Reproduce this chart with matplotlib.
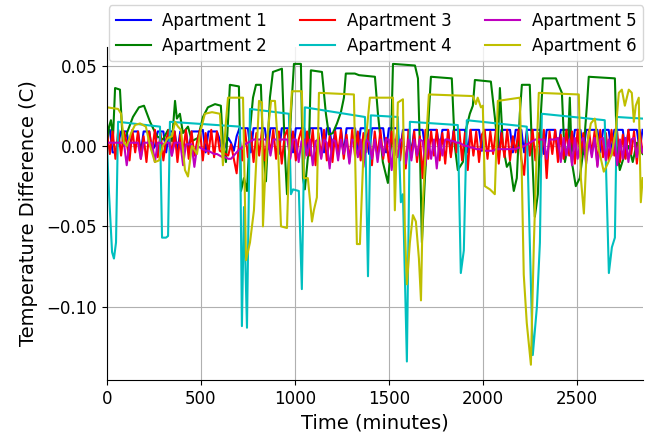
import numpy as np
import matplotlib
matplotlib.use("Agg")
import matplotlib.pyplot as plt

# fast series sampled every 15 minutes
t_fast = np.arange(0, 2851, 15)

apt1 = [
    .009, .010, -.004, -.004, .002, .009, .009, .009, -.003, .009,
    .009, .009, -.004, .009, .009, .009, -.003, .000, .009, .009,
    .009, -.004, .009, .009, .009, -.004, .009, .009, .009, -.003,
    .009, .009, .009, .009, .010, -.004, .009, .009, .009, .009,
    .004, -.004, .000, .005, .002, -.003, .006, .011, .011, .011,
    .011, -.004, .011, .011, .011, .011, .011, -.002, .011, .011,
    .011, -.005, .011, .011, .011, .011, -.004, .011, .011, .011,
    .011, -.003, .011, .011, .011, .011, .011, -.004, .011, .011,
    -.004, .011, .011, .011, -.005, .011, .011, .011, .011, -.003,
    .011, .011, .011, -.005, .011, .011, .011, .011, .011, -.004,
    .011, .011, .011, .011, -.004, .010, .010, .010, -.005, .010,
    .010, .010, .010, -.004, .010, .010, .010, .010, -.003, .010,
    .010, .010, -.005, .010, .010, .010, .010, .010, -.004, .010,
    .010, .010, .010, -.003, .010, .010, .010, .010, .010, -.005,
    .010, .010, .010, .010, -.004, .010, .010, .010, -.004, .010,
    .010, .010, .010, .010, .010, -.005, .010, .010, .010, .010,
    -.004, .010, .010, .010, .010, -.003, .010, .010, .010, -.005,
    .010, .010, .010, .010, .010, -.004, .010, .010, .010, -.004,
    .010, .010, .010, .010, -.005, .010, .010, .010, .010, -.003,
    .010,
]

apt3 = [
    .008, -.005, .009, -.008, .010, -.006, .009, .002, -.009, .010,
    -.004, .009, -.008, .006, -.010, .009, -.003, .010, -.007, .008,
    -.009, .004, .010, -.006, .009, -.010, .007, -.004, .010, -.008,
    .009, -.006, .003, .010, -.009, .008, -.005, .010, -.007, .009,
    -.003, -.004, -.005, -.006, .001, -.008, -.017, .006, -.009, .010,
    -.007, .009, -.010, .008, -.006, .010, -.009, .007, -.004, .010,
    -.008, .009, -.011, .006, .010, -.007, .009, -.009, .004, .010,
    -.008, .009, -.006, .010, -.012, .008, -.007, .010, -.009, .006,
    -.010, .009, -.005, .010, -.008, .007, -.010, .010, -.006, .009,
    -.009, .008, -.004, .010, -.012, .009, -.007, .010, -.008, .005,
    -.010, .009, -.006, .010, -.009, .008, -.014, .010, -.007, .009,
    -.010, .006, -.020, .010, -.008, .009, -.006, .010, -.009, .008,
    -.011, .010, -.007, .009, -.004, .010, -.009, .008, -.015, .010,
    -.006, .009, -.010, .007, .010, -.008, .009, -.005, .010, -.011,
    .008, -.007, .010, -.009, .006, -.004, .010, -.008, -.018, .009,
    -.006, .010, -.009, .008, -.007, .010, -.020, .009, -.005, .010,
    -.010, .007, -.008, .010, -.006, .009, -.011, .010, -.007, .008,
    -.009, .010, -.005, .009, -.012, .010, -.007, .008, -.009, .010,
    -.006, .009, -.010, .007, -.008, .010, -.005, .009, -.011, .010,
    -.004,
]

apt5 = [
    .002, .002, .002, .002, .002, .002, .002, -.012, .002, .002,
    .002, .002, -.008, .002, .002, .002, .002, -.010, .002, .002,
    .001, .002, .002, -.006, .002, .002, .002, -.012, .001, .001,
    .001, -.013, .000, -.001, -.002, -.003, -.003, -.004, -.005, -.005,
    -.006, -.007, -.007, -.008, -.008, -.006, -.004, -.002, -.001, .001,
    .002, .003, .004, .004, .004, .004, .004, .004, -.006, .004,
    .004, .004, .004, .004, .004, -.008, .004, .004, -.010, .003,
    .004, -.006, .004, -.012, .003, .004, -.008, .004, .002, -.014,
    .004, .003, -.009, .004, -.005, .004, -.011, .004, .003, -.007,
    .004, -.013, .004, .002, -.008, .004, -.010, .004, -.006, .004,
    .004, -.015, .004, -.007, .004, .003, -.011, .004, -.009, .004,
    -.006, .004, .003, -.012, .004, -.008, .004, -.014, .004, -.006,
    .004, .004, .003, .003, .002, .002, .001, .000, .000, -.001,
    -.001, -.002, -.002, -.002, -.003, -.003, -.003, -.003, -.002, -.002,
    -.002, -.002, -.002, -.002, -.002, -.002, -.001, -.001, .000, .001,
    .002, .003, .004, .004, .004, .004, -.008, .004, .004, .004,
    .005, -.010, .005, -.006, .004, -.012, .005, -.008, .003, .005,
    -.011, .004, -.007, .005, -.013, .004, .005, -.009, .004, -.006,
    .005, -.012, .004, -.008, .005, -.010, .004, .005, -.007, .004,
    -.004,
]

# slow series with gaps between readings
t_apt2 = [0, 11, 21, 32, 43, 69, 85, 106, 138, 170, 197, 229, 266, 298, 325,
          346, 362, 372, 388, 404, 431, 452, 484, 511, 537, 575, 606, 617,
          633, 654, 702, 713, 729, 745, 761, 777, 793, 819, 830, 846, 867,
          883, 931, 947, 958, 979, 995, 1032, 1043, 1053, 1075, 1085, 1144,
          1165, 1181, 1202, 1224, 1245, 1261, 1271, 1319, 1341, 1426, 1442,
          1468, 1495, 1511, 1522, 1639, 1655, 1665, 1676, 1692, 1708, 1724,
          1835, 1851, 1867, 1894, 1910, 1931, 1947, 1958, 2043, 2064, 2080,
          2091, 2107, 2128, 2144, 2165, 2181, 2197, 2208, 2250, 2261, 2277,
          2293, 2309, 2320, 2389, 2410, 2421, 2437, 2453, 2463, 2474, 2495,
          2516, 2538, 2554, 2564, 2703, 2713, 2729, 2756, 2777, 2798, 2820,
          2851]
apt2 = [.000, .012, .016, .005, .036, .035, .000, .008, .018, .024, .025,
        .015, .006, .004, .010, .003, .028, .017, .020, .008, .012, .003,
        .005, .018, .024, .026, .025, .002, -.010, .038, .037, -.028, -.020,
        -.028, .010, .030, .038, .038, .000, -.022, .030, .046, .048, -.005,
        -.030, .020, .051, .051, -.020, -.027, .000, .047, .046, .020, .007,
        .008, .014, .021, .030, .045, .045, .044, .043, .020, -.010, -.023,
        .000, .051, .050, .042, .000, -.060, -.020, .010, .043, .042, .000,
        -.015, -.010, .010, .020, .025, .041, .040, .018, .000, .036, .000,
        -.013, -.010, -.028, -.020, .020, .038, .038, .000, -.044, -.030,
        .020, .042, .042, .036, .033, -.010, .000, .030, -.010, -.025,
        -.020, .000, .025, .043, .042, .000, -.015, -.005, .000, -.010,
        .002, -.005]

t_apt4 = [0, 11, 27, 37, 48, 59, 282, 293, 314, 325, 335, 708, 718, 729,
          745, 761, 968, 979, 990, 1021, 1037, 1053, 1373, 1389, 1404, 1548,
          1564, 1575, 1596, 1612, 1867, 1883, 1899, 1915, 2234, 2266, 2288,
          2304, 2314, 2649, 2671, 2687, 2703, 2713, 2851]
apt4 = [.000, -.030, -.066, -.070, -.060, .015, .012, -.057, -.057, -.056,
        .015, .012, -.112, -.038, -.113, .023, .020, -.030, -.027, -.028,
        -.089, .024, .018, -.081, .019, .018, -.035, -.030, -.134, .015,
        .013, -.079, -.065, .016, .012, -.130, -.100, -.060, .020, .016,
        -.079, -.063, -.057, .018, .017]

t_apt6 = [0, 59, 75, 90, 106, 128, 149, 176, 207, 229, 255, 277, 298, 325,
          346, 362, 378, 394, 415, 431, 452, 479, 495, 521, 559, 601, 617,
          633, 644, 724, 740, 761, 782, 798, 809, 825, 830, 841, 857, 873,
          894, 910, 926, 958, 974, 984, 1037, 1048, 1069, 1091, 1101, 1117,
          1128, 1314, 1330, 1346, 1367, 1383, 1399, 1522, 1532, 1548, 1575,
          1585, 1596, 1612, 1628, 1644, 1660, 1671, 1681, 1697, 1713, 1947,
          1963, 1973, 1990, 2000, 2011, 2038, 2064, 2080, 2197, 2208, 2218,
          2234, 2256, 2272, 2288, 2298, 2511, 2522, 2538, 2554, 2575, 2596,
          2617, 2644, 2665, 2687, 2708, 2724, 2740, 2756, 2777, 2793, 2804,
          2814, 2830, 2841, 2851]
apt6 = [.024, .023, .020, .002, .000, .008, .013, .014, .012, .000, -.010,
        -.009, .000, .005, .006, .015, .012, .010, -.015, -.019, .000,
        -.005, .008, .020, .021, .020, -.012, .015, .030, .030, -.071,
        -.060, -.040, .000, .028, .027, -.050, -.020, .010, .028, .028,
        .000, -.050, -.051, .015, .034, .034, -.020, -.020, -.047, -.040,
        -.032, .033, .032, -.061, -.061, .002, .010, .030, .030, -.040,
        .027, .029, -.050, -.086, -.060, -.043, -.047, -.070, -.096, -.035,
        .000, .032, .031, .026, .030, .024, .025, -.025, -.027, -.030, .028,
        .030, -.020, -.080, -.110, -.136, -.060, .000, .033, .032, -.020,
        -.042, .000, .014, .017, -.002, -.016, -.011, -.005, .010, .033,
        .035, .025, .035, .033, .015, .025, .030, -.035, -.020]

fig = plt.figure(figsize=(6.54, 4.34), dpi=100)
ax = fig.add_axes([0.1636, 0.1244, 0.8194, 0.7673])

ax.plot(t_fast, apt1, color="b", lw=1.5, label="Apartment 1")
ax.plot(t_apt2, apt2, color="g", lw=1.5, label="Apartment 2")
ax.plot(t_fast, apt3, color="r", lw=1.5, label="Apartment 3")
ax.plot(t_apt4, apt4, color="c", lw=1.5, label="Apartment 4")
ax.plot(t_fast, apt5, color="m", lw=1.5, label="Apartment 5")
ax.plot(t_apt6, apt6, color="y", lw=1.5, label="Apartment 6")

ax.set_xlim(0, 2852)
ax.set_ylim(-0.1455, 0.0615)
ax.set_xticks([0, 500, 1000, 1500, 2000, 2500])
ax.set_yticks([-0.10, -0.05, 0.00, 0.05])
ax.grid(True, color="#b0b0b0", lw=0.8)
ax.spines["top"].set_visible(False)
ax.spines["right"].set_visible(False)
ax.tick_params(labelsize=12)
ax.set_xlabel("Time (minutes)", fontsize=14)
ax.set_ylabel("Temperature Difference (C)", fontsize=14, labelpad=6)

ax.legend(ncol=3, fontsize=12, loc="upper right",
          bbox_to_anchor=(0.996, 1.007), bbox_transform=fig.transFigure,
          handlelength=2.1, handletextpad=0.7, columnspacing=2.0,
          borderpad=0.4, labelspacing=0.4)

fig.savefig("out.png", dpi=100)
